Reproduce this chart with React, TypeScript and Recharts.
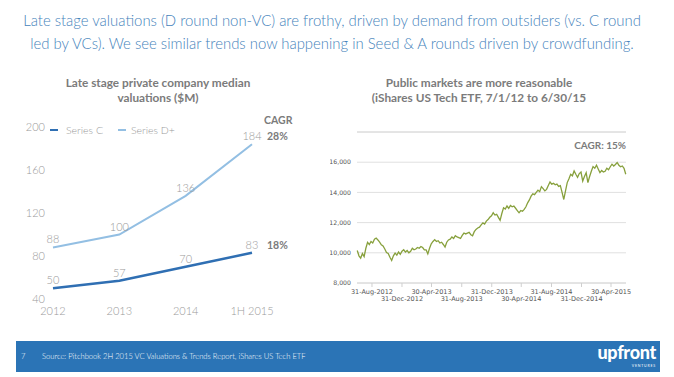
import React from "react";
import { LineChart, Line, XAxis, YAxis, CartesianGrid, LabelList, ReferenceLine } from "recharts";

// Left chart data
const years = ["2012", "2013", "2014", "1H 2015"];
const seriesC = [50, 57, 70, 83];
const seriesD = [88, 100, 136, 184];
const leftTicks = [40, 80, 120, 160, 200];

// Right chart data: weekly iShares US Tech ETF (growth of 10,000), starting 2-Jul-2012
const etfStart = Date.UTC(2012, 6, 2);
const etfValues = [
  10150, 9800, 9650, 9950, 9750, 10300, 10690, 10550, 10750, 10650,
  10900, 10980, 10850, 10700, 10530, 10450, 10250, 10020, 9950, 9700,
  9490, 9800, 9980, 9850, 10050, 9900, 10100, 10200, 10050, 10150,
  10000, 10100, 10300, 10200, 10250, 10350, 10300, 10420, 10350, 10200,
  10200, 9930, 10300, 10600, 10750, 10870, 10750, 10800, 10650, 10700,
  10550, 10380, 10700, 10850, 10900, 11050, 10950, 11130, 11050, 11000,
  10950, 11150, 11310, 11250, 11300, 11350, 11200, 11130, 11400, 11550,
  11640, 11700, 11850, 11980, 11900, 12100, 12200, 12350, 12450, 12650,
  12500, 12550, 12350, 12150, 12600, 12980, 12900, 13100, 12950, 13130,
  13050, 13100, 12950, 12800, 12650, 12800, 12750, 12880, 13050, 13310,
  13500, 13750, 13900, 13850, 14000, 14150, 14050, 14380, 14250, 14100,
  14200, 14450, 14690, 14550, 14600, 14500, 14550, 14400, 14450, 14000,
  13530, 14100, 14650, 14900, 15200, 15100, 15420, 15200, 15000, 15250,
  15350, 14750, 15050, 15300, 14650, 15050, 15400, 15710, 15600, 15800,
  15550, 15310, 15450, 15350, 15400, 15600, 15500, 15700, 15870, 15750,
  15850, 15980, 15800, 15700, 15750, 15600, 15200,
];
const etfDomain = [Date.UTC(2012, 6, 1), Date.UTC(2015, 5, 30)];
const etfTickDates = [
  Date.UTC(2012, 7, 31), Date.UTC(2012, 11, 31), Date.UTC(2013, 3, 30),
  Date.UTC(2013, 7, 31), Date.UTC(2013, 11, 31), Date.UTC(2014, 3, 30),
  Date.UTC(2014, 7, 31), Date.UTC(2014, 11, 31), Date.UTC(2015, 3, 30),
];
const etfTickLabels = [
  "31-Aug-2012", "31-Dec-2012", "30-Apr-2013", "31-Aug-2013", "31-Dec-2013",
  "30-Apr-2014", "31-Aug-2014", "31-Dec-2014", "30-Apr-2015",
];
const etfYTicks = [8000, 10000, 12000, 14000, 16000, 18000];
const etfYMax = 18000;

const leftData = years.map((y, i) => ({ year: y, c: seriesC[i], d: seriesD[i] }));
const etfData = etfValues.map((v, i) => ({ t: etfStart + i * 7 * 86400000, v }));

const FONT = "Lato, 'Noto Sans', sans-serif";
const C_COLOR = "#2f6fb3";
const D_COLOR = "#93bfe3";
const TITLE_GRAY = "#7b7b7b";
const LIGHT_GRAY = "#9a9a9a";
const GRID = "#e0e0e0";

const EtfTick = (props: any) => {
  const { x, y, payload } = props;
  const idx = etfTickDates.indexOf(payload.value);
  const label = idx >= 0 ? etfTickLabels[idx] : "";
  return (
    <text x={x} y={y + (idx % 2 === 1 ? 7 : 0)} dy="0.71em" textAnchor="middle" fontSize={6.5} fill="#555" fontFamily="'DejaVu Sans', sans-serif">
      {label}
    </text>
  );
};

export default function App() {
  return (
    <div style={{ position: "absolute", left: 0, top: 0, width: 674, height: 377, background: "#fff", fontFamily: FONT, overflow: "hidden" }}>
      {/* Headline */}
      <div style={{ position: "absolute", left: 0, top: 9, width: 664, textAlign: "center", color: "#4583bb", fontSize: 14.9, lineHeight: "23px", fontWeight: 300 }}>
        Late stage valuations (D round non-VC) are frothy, driven by demand from outsiders (vs. C round<br />
        led by VCs). We see similar trends now happening in Seed &amp; A rounds driven by crowdfunding.
      </div>

      {/* Left chart title */}
      <div style={{ position: "absolute", left: 58, top: 75, width: 200, textAlign: "center", color: TITLE_GRAY, fontSize: 11.8, lineHeight: "15px", fontWeight: 700 }}>
        Late stage private company median<br />valuations ($M)
      </div>

      {/* Left chart */}
      <div style={{ position: "absolute", left: 0, top: 100 }}>
        <LineChart width={330} height={230} data={leftData} margin={{ top: 27, right: 78, bottom: 1, left: 23 }}>
          <XAxis dataKey="year" height={30} axisLine={false} tickLine={false} interval={0} padding={{ left: 0, right: 0 }}
            tick={{ fontSize: 11, fill: LIGHT_GRAY, fontFamily: FONT, fontWeight: 300 }} />
          <YAxis width={30} domain={[40, 200]} ticks={leftTicks} axisLine={false} tickLine={false}
            tick={{ fontSize: 11, fill: LIGHT_GRAY, fontFamily: FONT, fontWeight: 300 }} />
          <Line type="linear" dataKey="c" name="Series C" stroke={C_COLOR} strokeWidth={2.5} dot={false} isAnimationActive={false}>
            <LabelList dataKey="c" position="top" offset={4} fill={LIGHT_GRAY} fontSize={11} fontFamily={FONT} fontWeight={300} />
          </Line>
          <Line type="linear" dataKey="d" name="Series D+" stroke={D_COLOR} strokeWidth={2} dot={false} isAnimationActive={false}>
            <LabelList dataKey="d" position="top" offset={4} fill={LIGHT_GRAY} fontSize={11} fontFamily={FONT} fontWeight={300} />
          </Line>
        </LineChart>
      </div>

      {/* Left legend */}
      <div style={{ position: "absolute", left: 50, top: 124, display: "flex", alignItems: "center", fontSize: 10.5, color: LIGHT_GRAY, fontWeight: 300, whiteSpace: "nowrap" }}>
        <span style={{ display: "inline-block", width: 8, height: 2.5, background: C_COLOR, marginRight: 8 }} />
        <span style={{ marginRight: 15 }}>Series C</span>
        <span style={{ display: "inline-block", width: 8, height: 2, background: D_COLOR, marginRight: 5 }} />
        <span>Series D+</span>
      </div>

      {/* CAGR annotations */}
      <div style={{ position: "absolute", left: 264, top: 114, color: TITLE_GRAY, fontSize: 10.5, fontWeight: 700 }}>CAGR</div>
      <div style={{ position: "absolute", left: 267, top: 130, color: TITLE_GRAY, fontSize: 10.5, fontWeight: 700 }}>28%</div>
      <div style={{ position: "absolute", left: 267, top: 239, color: TITLE_GRAY, fontSize: 10.5, fontWeight: 700 }}>18%</div>

      {/* Right chart title */}
      <div style={{ position: "absolute", left: 369, top: 75, width: 220, textAlign: "center", color: TITLE_GRAY, fontSize: 11.8, lineHeight: "15px", fontWeight: 700 }}>
        Public markets are more reasonable<br />(iShares US Tech ETF, 7/1/12 to 6/30/15
      </div>

      {/* Right chart */}
      <div style={{ position: "absolute", left: 330, top: 100 }}>
        <LineChart width={344} height={220} data={etfData} margin={{ top: 32, right: 48, bottom: 7, left: 0 }}>
          <CartesianGrid vertical={false} stroke={GRID} strokeWidth={1} />
          <XAxis dataKey="t" type="number" scale="time" domain={etfDomain} ticks={etfTickDates} interval={0} height={30}
            axisLine={{ stroke: "#d8d8d8" }} tickLine={{ stroke: "#cfcfcf" }} tickSize={4} tickMargin={2} tick={<EtfTick />} />
          <YAxis width={27} domain={[8000, etfYMax]} ticks={etfYTicks} axisLine={false} tickLine={false} tickSize={4} tickMargin={2}
            tickFormatter={(v: number) => (v === etfYMax ? "" : v.toLocaleString("en-US"))}
            tick={{ fontSize: 6.2, fill: "#555", fontFamily: "'DejaVu Sans', sans-serif" }} />
          <ReferenceLine y={etfYMax} stroke="#d9d9d9" strokeWidth={1.2} ifOverflow="visible" />
          <Line type="linear" dataKey="v" stroke="#87a03c" strokeWidth={1.3} dot={false} isAnimationActive={false} />
        </LineChart>
      </div>
      <div style={{ position: "absolute", right: 48, top: 139, color: TITLE_GRAY, fontSize: 10, fontWeight: 700 }}>CAGR: 15%</div>

      {/* Footer */}
      <div style={{ position: "absolute", left: 16, top: 341, width: 644, height: 31, background: "#2b74b6", color: "#fff" }}>
        <span style={{ position: "absolute", left: 5, top: 10, fontSize: 7.6, fontWeight: 300 }}>7</span>
        <span style={{ position: "absolute", left: 26, top: 10, fontSize: 7.6, fontWeight: 300 }}>
          Source: Pitchbook 2H 2015 VC Valuations &amp; Trends Report, iShares US Tech ETF
        </span>
        <span style={{ position: "absolute", right: 4, top: 0, fontSize: 18, fontWeight: 900, letterSpacing: -0.3 }}>upfront</span>
        <span style={{ position: "absolute", right: 4, top: 23, fontSize: 3.5, letterSpacing: 0.8 }}>VENTURES</span>
      </div>
    </div>
  );
}
